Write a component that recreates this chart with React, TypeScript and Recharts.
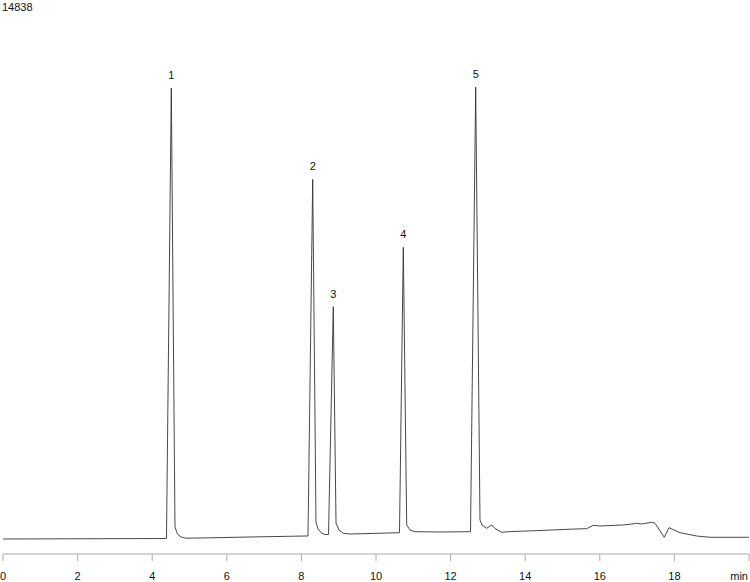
import { Line, LineChart, XAxis, YAxis, LabelList } from 'recharts'

// retention time (min) and detector signal
const TIME = [
  0, 2.064, 4.383, 4.512, 4.611, 4.678, 4.772, 4.906, 5.282, 6.622, 8.097,
  8.177, 8.303, 8.391, 8.445, 8.544, 8.633, 8.727,
  8.855, 8.928, 9.008, 9.123, 9.303, 9.839, 10.63,
  10.732, 10.823, 10.912, 11.046, 11.716, 12.534,
  12.673, 12.788, 12.842, 12.968, 13.102, 13.19, 13.37, 13.547, 14.397, 15.335,
  15.649, 15.826, 16.005, 16.63, 16.855, 16.989, 17.123, 17.391, 17.48, 17.729,
  17.855, 18.15, 18.598, 18.954, 20,
]
const SIGNAL = [
  -7, 0, 9, 14808, 387, 157, 58, 19, 26, 58, 91,
  91, 11809, 551, 321, 180, 141, 141,
  7624, 518, 288, 180, 157, 173, 200,
  9575, 453, 288, 233, 223, 233,
  14838, 617, 453, 344, 453, 338, 213, 233, 272, 321,
  331, 443, 420, 453, 486, 509, 486, 541, 509, 49,
  364, 200, 91, 49, 49,
]

const PEAK_TIMES = [4.512, 8.303, 8.855, 10.732, 12.673]
const PEAK_LABELS = ['1', '2', '3', '4', '5']

const X_TICKS = [0, 2, 4, 6, 8, 10, 12, 14, 16, 18, 20]
const Y_MAX_LABEL = '14838'

const FONT = "'Liberation Sans', Arial, sans-serif"

const data = TIME.map((t, i) => {
  const p = PEAK_TIMES.indexOf(t)
  return { t, v: SIGNAL[i], peak: p >= 0 ? PEAK_LABELS[p] : undefined }
})

function TimeTick({ x, y, payload }: any) {
  const last = payload.value === 20
  return (
    <text
      x={last ? x - 1 : x}
      y={y}
      dy={17}
      textAnchor={last ? 'end' : 'middle'}
      fontSize={11}
      fontFamily={FONT}
      fill="#111"
    >
      {last ? 'min' : payload.value}
    </text>
  )
}

function PeakLabel({ x, y, value }: any) {
  if (value === undefined || value === null) return null
  return (
    <text x={x} y={y - 9} textAnchor="middle" fontSize={11} fontFamily={FONT} fill="#111">
      {value}
    </text>
  )
}

export default function App() {
  return (
    <div style={{ position: 'relative', width: 750, height: 582, background: '#fff' }}>
      <style>{'body{margin:0}'}</style>
      <div
        style={{
          position: 'absolute',
          left: 2,
          top: 1,
          fontSize: 11,
          fontFamily: FONT,
          color: '#111',
          lineHeight: '13px',
        }}
      >
        {Y_MAX_LABEL}
      </div>
      <LineChart width={750} height={582} data={data} margin={{ top: 0, right: 1, bottom: 0, left: 3 }}>
        <XAxis
          dataKey="t"
          type="number"
          domain={[0, 20]}
          ticks={X_TICKS}
          height={28}
          tickSize={7}
          tick={<TimeTick />}
          stroke="#aaa"
          interval={0}
        />
        <YAxis hide domain={[-500, 17700]} />
        <Line
          type="linear"
          dataKey="v"
          stroke="#333"
          strokeWidth={0.9}
          dot={false}
          isAnimationActive={false}
        >
          <LabelList dataKey="peak" content={<PeakLabel />} />
        </Line>
      </LineChart>
    </div>
  )
}
